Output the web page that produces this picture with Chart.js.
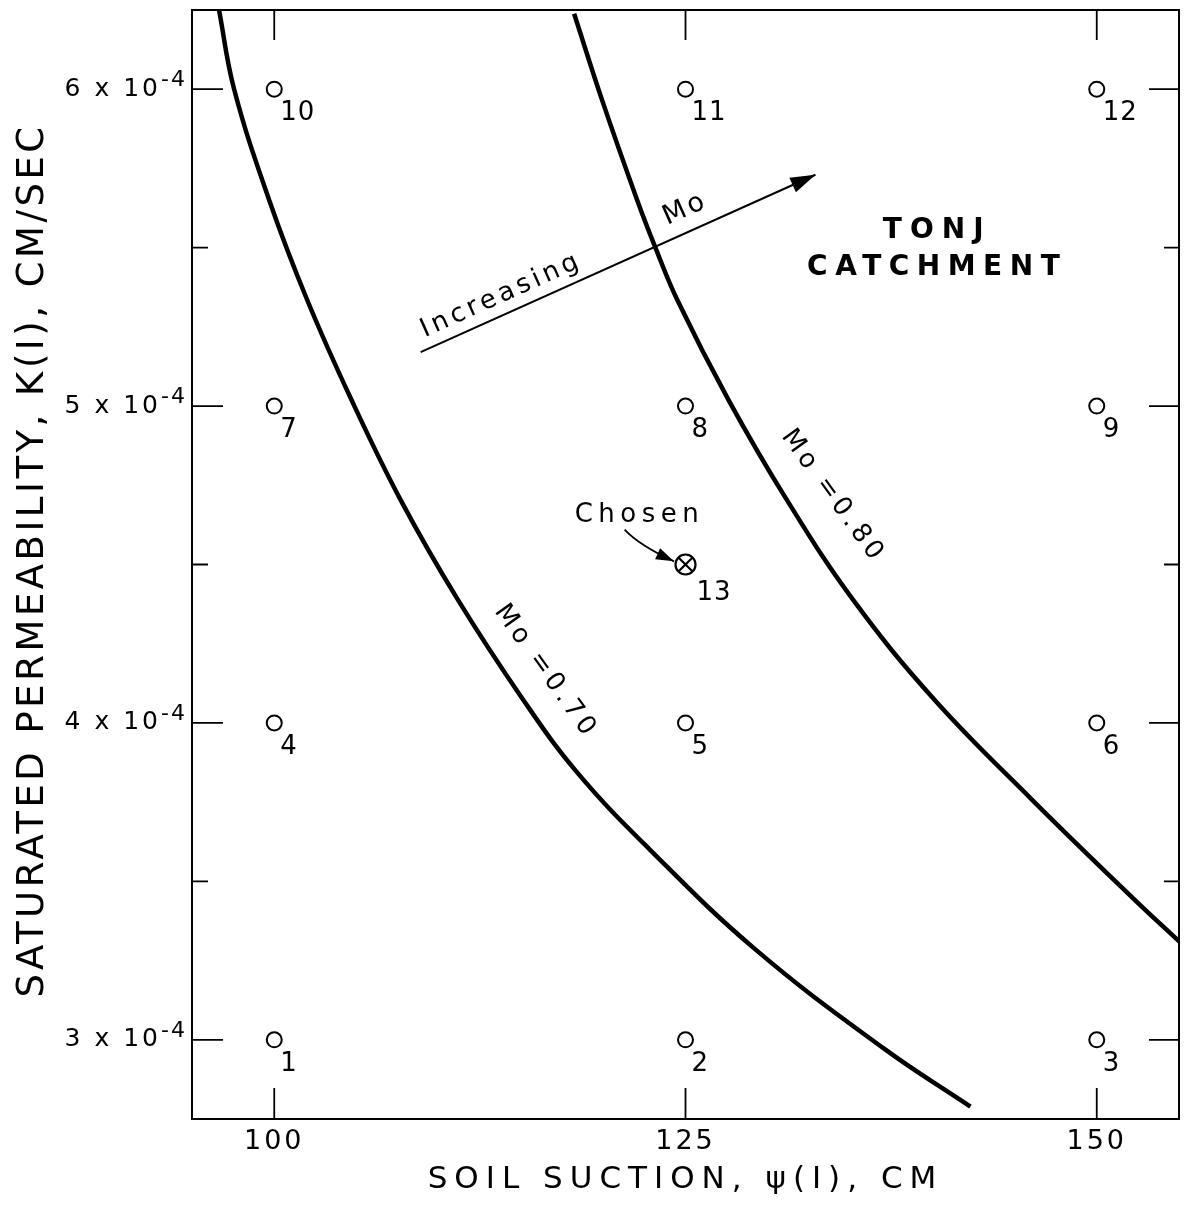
<!DOCTYPE html>
<html>
<head>
<meta charset="utf-8">
<script src="https://cdn.jsdelivr.net/npm/chart.js@4.4.1/dist/chart.umd.min.js"></script>
<style>
  html, body { margin: 0; padding: 0; background: #fff; }
  #wrap { width: 1185px; height: 1214px; }
</style>
</head>
<body>
<div id="wrap"><canvas id="chart"></canvas></div>
<script>
// --- DATA (K in units of 1e-4 cm/sec, suction in cm) ---
const gridSuction = [100, 125, 150, 100, 125, 150, 100, 125, 150, 100, 125, 150];
const gridK       = [3, 3, 3, 4, 4, 4, 5, 5, 5, 6, 6, 6];
const gridIds     = ['1', '2', '3', '4', '5', '6', '7', '8', '9', '10', '11', '12'];

const chosenSuction = [125];
const chosenK       = [4.5];
const chosenIds     = ['13'];

// Mo = 0.70 curve
const mo70Suction = [96.65, 97.56, 99.70, 102.01, 104.70, 107.68, 111.16, 115.12, 118.41, 122.80, 129.21, 137.07, 142.32];
const mo70K       = [6.248, 6.000, 5.649, 5.334, 5.019, 4.704, 4.389, 4.074, 3.844, 3.602, 3.287, 2.972, 2.789];
// Mo = 0.80 curve
const mo80Suction = [118.23, 119.94, 122.07, 123.11, 124.51, 127.62, 131.16, 135.18, 140.12, 146.04, 152.26, 155.06];
const mo80K       = [6.238, 5.964, 5.649, 5.508, 5.334, 5.019, 4.704, 4.389, 4.074, 3.759, 3.444, 3.308];
// "Increasing Mo" arrow
const arrowSuction = [108.9, 132.9];
const arrowK       = [5.17, 5.73];
// "Chosen" pointer (start, bend, tip)
const chosenArrowSuction = [121.3, 122.2, 124.3];
const chosenArrowK       = [4.61, 4.56, 4.51];

const xTicks = [100, 125, 150];
const yTicks = [3, 4, 5, 6];
const yMinorTicks = [3.5, 4.5, 5.5];
const yTickExponent = '-4';

const FONT = '"DejaVu Sans", sans-serif';

// text notes, anchored in data units
const notes = [
  { text: 'TONJ', x: 140.3, y: 5.554, font: 'bold 28px', spacing: 8 },
  { text: 'CATCHMENT', x: 140.3, y: 5.437, font: 'bold 28px', spacing: 7.5 },
  { text: 'Chosen', x: 122.2, y: 4.655, font: '26px', spacing: 5.5 },
  { text: 'Mo =0.80', x: 133.96, y: 4.715, font: '26px', spacing: 4, angle: 54 },
  { text: 'Mo =0.70', x: 116.5, y: 4.162, font: '26px', spacing: 4, angle: 54.4 }
];

const pts = (xs, ys) => xs.map((x, i) => ({ x: x, y: ys[i] }));

function drawText(ctx, str, x, y, o) {
  ctx.save();
  ctx.translate(x, y);
  ctx.rotate((o.angle || 0) * Math.PI / 180);
  ctx.font = o.font + ' ' + FONT;
  ctx.letterSpacing = (o.spacing || 0) + 'px';
  ctx.textAlign = o.align || 'center';
  ctx.textBaseline = o.baseline || 'middle';
  ctx.fillStyle = '#000';
  ctx.fillText(str, 0, 0);
  ctx.restore();
}

function arrowHead(ctx, tip, from, len, half) {
  const dx = tip.x - from.x, dy = tip.y - from.y;
  const d = Math.hypot(dx, dy);
  const ux = dx / d, uy = dy / d;
  ctx.beginPath();
  ctx.moveTo(tip.x, tip.y);
  ctx.lineTo(tip.x - ux * len - uy * half, tip.y - uy * len + ux * half);
  ctx.lineTo(tip.x - ux * len + uy * half, tip.y - uy * len - ux * half);
  ctx.closePath();
  ctx.fill();
}

const extras = {
  id: 'extras',
  beforeDraw(chart) {
    chart.ctx.letterSpacing = '3px';
  },
  afterDatasetsDraw(chart) {
    const ctx = chart.ctx;
    const xs = chart.scales.x, ys = chart.scales.y;
    const a = chart.chartArea;
    const px = (x, y) => ({ x: xs.getPixelForValue(x), y: ys.getPixelForValue(y) });
    ctx.save();
    ctx.letterSpacing = '0px';
    ctx.strokeStyle = '#000';
    ctx.fillStyle = '#000';

    // top and right frame
    ctx.lineWidth = 2;
    ctx.beginPath();
    ctx.moveTo(a.left, a.top); ctx.lineTo(a.right, a.top); ctx.lineTo(a.right, a.bottom);
    ctx.stroke();

    // inward ticks
    ctx.lineWidth = 1.8;
    ctx.beginPath();
    xTicks.forEach(v => {
      const x = xs.getPixelForValue(v);
      ctx.moveTo(x, a.bottom); ctx.lineTo(x, a.bottom - 31);
      ctx.moveTo(x, a.top); ctx.lineTo(x, a.top + 30);
    });
    yTicks.forEach(v => {
      const y = ys.getPixelForValue(v);
      ctx.moveTo(a.left, y); ctx.lineTo(a.left + 31, y);
      ctx.moveTo(a.right, y); ctx.lineTo(a.right - 30, y);
    });
    yMinorTicks.forEach(v => {
      const y = ys.getPixelForValue(v);
      ctx.moveTo(a.left, y); ctx.lineTo(a.left + 16, y);
      ctx.moveTo(a.right, y); ctx.lineTo(a.right - 15, y);
    });
    ctx.stroke();

    // exponent of the y tick labels
    yTicks.forEach(v => {
      drawText(ctx, yTickExponent, a.left - 31, ys.getPixelForValue(v) - 9,
        { font: '22px', spacing: 2, align: 'left' });
    });

    // Increasing Mo arrow: head and texts
    const p0 = px(arrowSuction[0], arrowK[0]);
    const p1 = px(arrowSuction[1], arrowK[1]);
    arrowHead(ctx, p1, p0, 25, 8);
    const len = Math.hypot(p1.x - p0.x, p1.y - p0.y);
    const ux = (p1.x - p0.x) / len, uy = (p1.y - p0.y) / len;
    const nx = uy, ny = -ux;
    const ang = Math.atan2(uy, ux) * 180 / Math.PI;
    drawText(ctx, 'Increasing', p0.x + ux * 10 + nx * 12, p0.y + uy * 10 + ny * 12,
      { font: '26px', spacing: 4, angle: ang, align: 'left', baseline: 'alphabetic' });
    drawText(ctx, 'Mo', p0.x + ux * 300 + nx * 22, p0.y + uy * 300 + ny * 22,
      { font: '27px', spacing: 3, angle: ang });

    // Chosen pointer
    const c = chosenArrowSuction.map((s, i) => px(s, chosenArrowK[i]));
    ctx.lineWidth = 1.8;
    ctx.beginPath();
    ctx.moveTo(c[0].x, c[0].y);
    ctx.quadraticCurveTo(c[1].x, c[1].y, c[2].x, c[2].y);
    ctx.stroke();
    arrowHead(ctx, c[2], c[1], 18, 6);

    // point labels
    chart.data.datasets.forEach((ds, i) => {
      if (!ds.ids) return;
      chart.getDatasetMeta(i).data.forEach((el, j) => {
        drawText(ctx, ds.ids[j], el.x + ds.labelDx, el.y + ds.labelDy,
          { font: '26px', spacing: 1, align: 'left' });
      });
    });

    // notes
    notes.forEach(n => {
      const p = px(n.x, n.y);
      drawText(ctx, n.text, p.x, p.y, n);
    });

    // axis titles
    drawText(ctx, 'SOIL SUCTION, \u03C8(I), CM', (a.left + a.right) / 2, 1188,
      { font: '31px', spacing: 7, baseline: 'alphabetic' });
    drawText(ctx, 'SATURATED PERMEABILITY, K(I), CM/SEC', 43, (a.top + a.bottom) / 2 - 4,
      { font: '37px', spacing: 3.5, angle: -90, baseline: 'alphabetic' });
    ctx.restore();
  },
  afterDraw(chart) {
    chart.ctx.letterSpacing = '0px';
  }
};

new Chart(document.getElementById('chart'), {
  type: 'scatter',
  data: {
    datasets: [
      {
        label: 'Mo = 0.70', data: pts(mo70Suction, mo70K), showLine: true,
        borderColor: '#000', borderWidth: 4.5, pointRadius: 0, tension: 0.4
      },
      {
        label: 'Mo = 0.80', data: pts(mo80Suction, mo80K), showLine: true,
        borderColor: '#000', borderWidth: 4.5, pointRadius: 0, tension: 0.4
      },
      {
        label: 'Increasing Mo', data: pts(arrowSuction, arrowK), showLine: true,
        borderColor: '#000', borderWidth: 2, pointRadius: 0
      },
      {
        label: 'Trials', data: pts(gridSuction, gridK), ids: gridIds, labelDx: 6, labelDy: 24,
        pointStyle: 'circle', pointRadius: 7.5, borderWidth: 2, borderColor: '#000', backgroundColor: 'rgba(0,0,0,0)'
      },
      {
        label: 'Chosen', data: pts(chosenSuction, chosenK), ids: chosenIds, labelDx: 11, labelDy: 29,
        pointStyle: 'circle', pointRadius: 10, borderWidth: 2.2, borderColor: '#000', backgroundColor: 'rgba(0,0,0,0)'
      },
      {
        label: 'Chosen cross', data: pts(chosenSuction, chosenK),
        pointStyle: 'crossRot', pointRadius: 10, borderWidth: 2.2, borderColor: '#000'
      }
    ]
  },
  options: {
    responsive: true,
    maintainAspectRatio: false,
    animation: false,
    events: [],
    layout: { autoPadding: false, padding: { top: 10, right: 6, left: 0, bottom: 0 } },
    plugins: { legend: { display: false }, tooltip: { enabled: false } },
    scales: {
      x: {
        type: 'linear', min: 95, max: 155,
        afterBuildTicks: s => { s.ticks = xTicks.map(v => ({ value: v })); },
        afterFit: s => { s.height = 95; s.paddingLeft = 0; s.paddingRight = 0; },
        grid: { display: false, drawTicks: false },
        border: { display: true, color: '#000', width: 2 },
        ticks: {
          color: '#000', padding: 9, maxRotation: 0,
          font: { family: FONT, size: 27, lineHeight: 1 },
          callback: v => String(v)
        }
      },
      y: {
        type: 'linear', min: 2.75, max: 6.25,
        afterBuildTicks: s => { s.ticks = yTicks.map(v => ({ value: v })); },
        afterFit: s => { s.width = 192; s.paddingTop = 0; s.paddingBottom = 0; },
        grid: { display: false, drawTicks: false },
        border: { display: true, color: '#000', width: 2 },
        ticks: {
          color: '#000', padding: 31,
          font: { family: FONT, size: 25, lineHeight: 1 },
          callback: v => v + ' x 10'
        }
      }
    }
  },
  plugins: [extras]
});
</script>
</body>
</html>
